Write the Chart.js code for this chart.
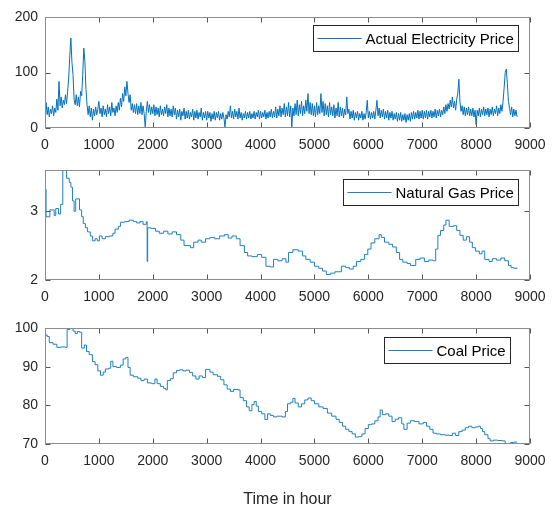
<!DOCTYPE html>
<html>
<head>
<meta charset="utf-8">
<script src="https://cdn.jsdelivr.net/npm/chart.js@4.4.1/dist/chart.umd.min.js"></script>
<style>
  html, body { margin: 0; padding: 0; background: #fff; }
  #wrap { position: relative; width: 556px; height: 509px; }
  canvas { position: absolute; left: 0; }
</style>
</head>
<body>
<div id="wrap">
  <canvas id="elec" width="556" height="150" style="top:0px"></canvas>
  <canvas id="gas" width="556" height="152" style="top:150px"></canvas>
  <canvas id="coal" width="556" height="204" style="top:305px"></canvas>
</div>
<script>
// hourly axis ticks shared by all three panels
const hourTicks = [0, 1000, 2000, 3000, 4000, 5000, 6000, 7000, 8000, 9000];
const elecTicks = [0, 100, 200];
const gasTicks = [2, 3];
const coalTicks = [70, 80, 90, 100];

// electricity price, read every 20 hours (0 .. 8760)
const ELEC_STEP = 20;
const elecPrice = [
  // 0 - 980
  32, 46, 24, 38, 20, 34, 26, 40, 22, 36,
  28, 52, 32, 84, 40, 56, 36, 50, 42, 60,
  44, 66, 90, 130, 162, 118, 96, 52, 42, 60,
  40, 56, 38, 66, 58, 96, 144, 120, 70, 42,
  24, 40, 20, 36, 14, 34, 22, 38, 24, 34,
  // 1000 - 1980
  48, 26, 36, 20, 40, 24, 34, 20, 42, 26,
  38, 22, 46, 28, 36, 22, 40, 28, 46, 32,
  54, 38, 62, 48, 74, 58, 84, 62, 46, 60,
  32, 44, 28, 42, 26, 44, 24, 40, 26, 46,
  24, 40, 26, 2, 30, 48, 28, 42, 24, 38,
  // 2000 - 2980
  26, 42, 22, 38, 24, 36, 20, 40, 24, 34,
  22, 38, 26, 42, 20, 36, 22, 34, 20, 40,
  24, 36, 16, 32, 20, 34, 14, 30, 22, 36,
  16, 30, 18, 32, 16, 28, 20, 34, 14, 30,
  18, 32, 16, 28, 20, 36, 14, 28, 18, 30,
  // 3000 - 3980
  14, 30, 18, 28, 12, 26, 16, 30, 14, 28,
  18, 30, 14, 26, 16, 28, 18, 2, 24, 16,
  30, 20, 40, 18, 30, 16, 34, 20, 30, 16,
  36, 18, 28, 14, 26, 18, 30, 16, 28, 18,
  30, 16, 26, 18, 30, 16, 28, 20, 32, 16,
  // 4000 - 4980
  30, 18, 28, 20, 32, 16, 28, 18, 30, 20,
  34, 18, 30, 20, 38, 18, 34, 22, 40, 20,
  36, 24, 44, 20, 38, 22, 46, 20, 40, 2,
  36, 22, 44, 24, 50, 22, 42, 26, 48, 22,
  40, 26, 50, 30, 62, 26, 46, 24, 44, 22,
  // 5000 - 5980
  40, 20, 46, 24, 40, 26, 62, 28, 48, 22,
  44, 24, 40, 20, 46, 24, 38, 22, 42, 18,
  36, 22, 46, 20, 38, 22, 36, 18, 34, 24,
  56, 26, 34, 16, 30, 18, 32, 14, 28, 18,
  30, 14, 26, 18, 30, 14, 26, 16, 28, 50,
  // 6000 - 6980
  18, 30, 16, 28, 18, 30, 16, 32, 50, 22,
  36, 18, 32, 20, 34, 16, 30, 18, 32, 14,
  28, 18, 30, 14, 26, 16, 28, 12, 26, 14,
  28, 12, 24, 14, 26, 10, 24, 14, 26, 12,
  28, 16, 30, 16, 28, 18, 32, 16, 30, 18,
  // 7000 - 7980
  32, 16, 30, 18, 32, 16, 30, 20, 32, 18,
  30, 20, 34, 18, 32, 22, 34, 20, 32, 24,
  38, 26, 42, 30, 44, 34, 50, 38, 56, 36,
  48, 32, 52, 62, 88, 48, 30, 40, 24, 38,
  22, 36, 24, 38, 22, 34, 22, 36, 20, 32,
  // 8000 - 8760
  6, 32, 22, 36, 20, 34, 24, 38, 22, 34,
  24, 36, 20, 34, 24, 38, 22, 34, 26, 40,
  22, 36, 26, 42, 30, 48, 72, 100, 106, 80,
  48, 36, 24, 38, 20, 34, 22, 32, 20
];

// natural gas price: hour where each level starts, and the level
const gasHours = [
  0, 20, 90, 170, 200, 250, 290, 330, 400, 450, 480, 510, 540, 570, 640, 680, 710, 750, 790, 840,
  880, 930, 970, 1010, 1060, 1120, 1200, 1260, 1300, 1360, 1400, 1480, 1560, 1640, 1700, 1760, 1820, 1880, 1895, 1905,
  1960, 2050, 2120, 2200, 2280, 2360, 2440, 2520, 2580, 2700, 2760, 2840, 2900, 2980, 3060, 3150, 3240, 3330, 3400, 3470,
  3550, 3620, 3700, 3760, 3840, 3940, 4020, 4100, 4180, 4240, 4320, 4400, 4470, 4520, 4600, 4700, 4780, 4840, 4920, 5000,
  5080, 5150, 5220, 5300, 5380, 5450, 5500, 5580, 5650, 5720, 5780, 5860, 5930, 5990, 6050, 6120, 6200, 6240, 6300, 6380,
  6450, 6520, 6580, 6640, 6720, 6780, 6880, 6960, 7040, 7120, 7200, 7250, 7290, 7340, 7400, 7440, 7500, 7580, 7640, 7700,
  7760, 7820, 7880, 7930, 7990, 8060, 8110, 8160, 8240, 8300, 8380, 8460, 8530, 8600, 8650, 8700, 8760
];
const gasPrice = [
  3.32, 2.92, 3.02, 2.94, 3.04, 2.96, 3.10, 3.70, 3.48, 3.42, 3.35, 3.15, 3.00, 3.18, 3.02, 2.92, 2.82, 2.76, 2.70, 2.64,
  2.57, 2.60, 2.57, 2.64, 2.60, 2.63, 2.64, 2.68, 2.74, 2.78, 2.84, 2.85, 2.87, 2.85, 2.83, 2.85, 2.81, 2.85, 2.27, 2.76,
  2.75, 2.71, 2.68, 2.71, 2.67, 2.70, 2.66, 2.58, 2.50, 2.47, 2.55, 2.58, 2.55, 2.60, 2.62, 2.60, 2.64, 2.66, 2.61, 2.64,
  2.60, 2.50, 2.40, 2.35, 2.34, 2.37, 2.33, 2.20, 2.19, 2.30, 2.28, 2.31, 2.26, 2.40, 2.44, 2.42, 2.35, 2.30, 2.26, 2.20,
  2.17, 2.13, 2.08, 2.10, 2.12, 2.12, 2.20, 2.18, 2.16, 2.20, 2.27, 2.30, 2.37, 2.45, 2.54, 2.60, 2.66, 2.62, 2.55, 2.52,
  2.48, 2.40, 2.30, 2.26, 2.24, 2.21, 2.30, 2.32, 2.27, 2.29, 2.28, 2.45, 2.65, 2.72, 2.80, 2.87, 2.78, 2.79, 2.72, 2.65,
  2.58, 2.63, 2.55, 2.47, 2.42, 2.38, 2.42, 2.30, 2.27, 2.31, 2.29, 2.32, 2.28, 2.21, 2.18, 2.17, 2.18
];

// coal price: hour where each level starts, and the level
const coalHours = [
  0, 40, 80, 150, 220, 300, 380, 410, 460, 520, 560, 600, 640, 680, 730, 770, 820, 880, 930, 980,
  1030, 1080, 1120, 1180, 1220, 1260, 1330, 1400, 1450, 1500, 1540, 1580, 1640, 1720, 1780, 1840, 1900, 1980, 2040, 2080,
  2140, 2200, 2240, 2270, 2330, 2380, 2440, 2500, 2560, 2620, 2680, 2740, 2800, 2860, 2920, 2980, 3060, 3120, 3200, 3260,
  3320, 3380, 3440, 3500, 3580, 3620, 3680, 3740, 3790, 3840, 3880, 3920, 3960, 4020, 4080, 4130, 4180, 4240, 4300, 4400,
  4460, 4500, 4560, 4600, 4640, 4700, 4760, 4820, 4880, 4940, 5000, 5080, 5160, 5240, 5320, 5400, 5460, 5520, 5580, 5640,
  5700, 5760, 5820, 5880, 5940, 6000, 6060, 6120, 6180, 6220, 6260, 6320, 6380, 6440, 6500, 6560, 6620, 6660, 6720, 6780,
  6860, 6940, 7020, 7080, 7140, 7200, 7260, 7340, 7420, 7500, 7560, 7620, 7680, 7740, 7800, 7860, 7920, 7980, 8040, 8080,
  8120, 8160, 8220, 8260, 8320, 8400, 8480, 8540, 8580, 8640, 8700, 8760
];
const coalPrice = [
  98.2, 97.8, 96.2, 95.8, 95.0, 95.1, 95.0, 99.6, 100.0, 99.2, 98.6, 99.1, 98.9, 94.8, 95.6, 93.9, 93.1, 91.3, 90.5, 88.9,
  87.8, 88.6, 89.4, 89.6, 91.4, 90.0, 89.8, 90.4, 92.0, 92.4, 89.8, 87.8, 87.4, 87.0, 86.4, 86.8, 85.8, 85.6, 86.8, 85.6,
  84.9, 84.4, 84.0, 86.4, 86.9, 88.4, 89.0, 89.2, 88.9, 89.1, 88.5, 87.6, 86.8, 87.6, 87.2, 89.3, 88.6, 87.9, 87.5, 86.6,
  85.3, 84.2, 83.6, 84.1, 84.0, 82.0, 81.2, 79.6, 78.6, 80.2, 81.0, 79.8, 78.4, 77.8, 76.3, 77.8, 77.4, 77.0, 77.2, 77.0,
  78.4, 80.4, 80.8, 81.8, 80.6, 79.6, 80.4, 81.4, 81.9, 81.2, 80.4, 79.6, 79.2, 78.0, 77.2, 76.4, 75.6, 74.6, 73.8, 73.2,
  72.6, 71.8, 71.9, 72.6, 74.0, 75.0, 75.2, 76.0, 77.0, 78.8, 77.6, 77.8, 77.2, 75.8, 76.4, 76.8, 75.2, 73.8, 75.4, 76.0,
  75.8, 75.2, 75.6, 74.6, 73.8, 72.8, 72.6, 72.4, 72.3, 72.2, 72.8, 72.2, 73.2, 73.6, 74.2, 74.6, 74.2, 74.4, 74.6, 74.0,
  73.2, 72.4, 71.4, 70.8, 71.0, 70.9, 70.8, 70.1, 70.0, 70.4, 70.5, 70.5
];

const BLUE = '#0072BD';
const FONT = "'Liberation Sans', Arial, Helvetica, sans-serif";
const TICK_LEN = 5;

Chart.defaults.font.family = FONT;
Chart.defaults.color = '#262626';

// matlab-like axes box, inward ticks and an inset legend
const matlabBox = {
  id: 'matlabBox',
  afterDatasetsDraw(chart, args, opts) {
    const { ctx, chartArea: a, scales: { x, y } } = chart;
    const l = Math.round(a.left) + 0.5, r = Math.round(a.right) - 0.5;
    const t = Math.round(a.top) + 0.5, b = Math.round(a.bottom) - 0.5;
    ctx.save();
    ctx.lineWidth = 1;
    ctx.strokeStyle = '#555';
    ctx.beginPath();
    x.ticks.forEach(tk => {
      const px = Math.round(x.getPixelForValue(tk.value)) + 0.5;
      ctx.moveTo(px, b); ctx.lineTo(px, b - TICK_LEN);
      ctx.moveTo(px, t); ctx.lineTo(px, t + TICK_LEN);
    });
    y.ticks.forEach(tk => {
      const py = Math.round(y.getPixelForValue(tk.value)) + 0.5;
      ctx.moveTo(l, py); ctx.lineTo(l + TICK_LEN, py);
      ctx.moveTo(r, py); ctx.lineTo(r - TICK_LEN, py);
    });
    ctx.stroke();
    ctx.strokeStyle = '#8c8c8c';
    ctx.strokeRect(l, t, r - l, b - t);

    // legend
    const ds = chart.data.datasets[0];
    ctx.font = '15px ' + FONT;
    const tw = ctx.measureText(ds.label).width;
    const w = Math.round(4 + 44 + 4 + tw + 5), h = 26;
    const bx = Math.round(a.right - opts.right - w) + 0.5;
    const by = Math.round(a.top + opts.top) + 0.5;
    ctx.fillStyle = '#fff';
    ctx.fillRect(bx, by, w, h);
    ctx.strokeStyle = '#262626';
    ctx.strokeRect(bx, by, w, h);
    ctx.strokeStyle = ds.borderColor;
    ctx.beginPath();
    ctx.moveTo(bx + 4, by + h / 2);
    ctx.lineTo(bx + 48, by + h / 2);
    ctx.stroke();
    ctx.fillStyle = '#000';
    ctx.textBaseline = 'middle';
    ctx.textAlign = 'left';
    ctx.fillText(ds.label, bx + 52, by + h / 2 + 1);
    ctx.restore();
  }
};

function buildChart(id, o) {
  return new Chart(document.getElementById(id), {
    type: 'line',
    data: {
      datasets: [{
        label: o.label,
        data: o.data,
        borderColor: o.color,
        borderWidth: 1,
        pointRadius: 0,
        fill: false,
        stepped: o.stepped || false,
        tension: 0
      }]
    },
    options: {
      responsive: false,
      animation: false,
      devicePixelRatio: 1,
      events: [],
      layout: { padding: { top: o.padTop, right: 26, left: 0, bottom: 0 } },
      plugins: {
        legend: { display: false },
        tooltip: { enabled: false },
        matlabBox: o.legendPos
      },
      scales: {
        x: {
          type: 'linear',
          min: 0,
          max: 9000,
          grid: { display: false, drawTicks: false },
          border: { display: false },
          ticks: {
            padding: 9,
            autoSkip: false,
            maxRotation: 0,
            font: { size: 14 },
            color: '#262626',
            callback: v => String(v)
          },
          afterBuildTicks: s => { s.ticks = hourTicks.map(v => ({ value: v })); },
          afterFit: s => { s.height = o.xHeight; },
          title: o.title
            ? { display: true, text: o.title, font: { size: 16 }, color: '#262626', padding: { top: 0, bottom: 0 } }
            : { display: false }
        },
        y: {
          min: o.yMin,
          max: o.yMax,
          grid: { display: false, drawTicks: false },
          border: { display: false },
          ticks: {
            padding: 7,
            font: { size: 14 },
            color: '#262626',
            callback: v => String(v)
          },
          afterBuildTicks: s => { s.ticks = o.yTicks.map(v => ({ value: v })); },
          afterFit: s => { s.width = 45; }
        }
      }
    },
    plugins: [matlabBox]
  });
}

buildChart('elec', {
  label: 'Actual Electricity Price',
  data: elecPrice.map((v, i) => ({ x: i * ELEC_STEP, y: v })),
  color: BLUE,
  yMin: 0, yMax: 200, yTicks: elecTicks,
  padTop: 17, xHeight: 22,
  legendPos: { right: 12, top: 8 }
});

buildChart('gas', {
  label: 'Natural Gas Price',
  data: gasHours.map((hr, i) => ({ x: hr, y: gasPrice[i] })),
  color: '#1f80c6',
  stepped: true,
  yMin: 2, yMax: 3.6, yTicks: gasTicks,
  padTop: 20, xHeight: 22,
  legendPos: { right: 12, top: 8.5 }
});

buildChart('coal', {
  label: 'Coal Price',
  data: coalHours.map((hr, i) => ({ x: hr, y: coalPrice[i] })),
  color: '#1f80c6',
  stepped: true,
  yMin: 70, yMax: 100, yTicks: coalTicks,
  padTop: 23, xHeight: 65,
  title: 'Time in hour',
  legendPos: { right: 20, top: 8.5 }
});
</script>
</body>
</html>
